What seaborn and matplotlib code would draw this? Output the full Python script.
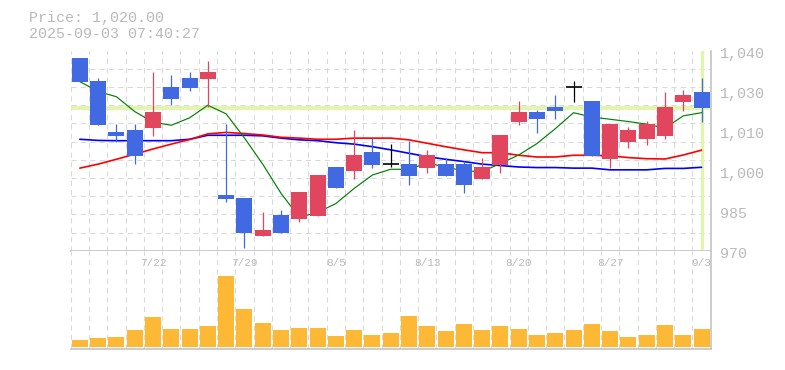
import numpy as np
import pandas as pd
import matplotlib
matplotlib.use('Agg')
import matplotlib.pyplot as plt
import matplotlib.transforms as mtransforms
import seaborn as sns

# trading days (7/21, 8/11 are holidays)
dates = ["7/15", "7/16", "7/17", "7/18", "7/22", "7/23", "7/24", "7/25", "7/28", "7/29",
         "7/30", "7/31", "8/1", "8/4", "8/5", "8/6", "8/7", "8/8", "8/12", "8/13",
         "8/14", "8/15", "8/18", "8/19", "8/20", "8/21", "8/22", "8/25", "8/26", "8/27",
         "8/28", "8/29", "9/1", "9/2", "9/3"]
opens = [1037.6, 1029.5, 1011.6, 1012.3, 1013.1, 1027.4, 1030.5, 1030.2, 989.5, 988.5,
         975.3, 982.5, 981.2, 982.3, 999.3, 998.0, 1004.6, 1000.4, 1000.4, 999.1,
         1000.4, 1000.4, 995.2, 1000.1, 1015.2, 1018.6, 1020.3, 1027.2, 1022.4, 1002.2,
         1008.2, 1009.2, 1010.3, 1022.2, 1025.6]
highs = [1037.6, 1030.6, 1014.4, 1014.4, 1032.7, 1031.5, 1032.7, 1036.5, 1014.4, 988.5,
         983.7, 984.3, 990.6, 996.5, 999.3, 1012.3, 1009.4, 1007.4, 1008.5, 1005.3,
         1002.5, 1001.4, 1002.5, 1010.5, 1022.4, 1019.3, 1024.5, 1029.4, 1022.4, 1014.4,
         1013.3, 1015.4, 1025.6, 1026.3, 1030.5]
lows = [1029.2, 1014.0, 1008.2, 1000.3, 1010.3, 1021.1, 1026.0, 1020.2, 987.2, 971.1,
        975.3, 976.3, 980.2, 982.3, 992.1, 995.2, 999.1, 999.3, 993.0, 997.3,
        996.3, 990.3, 995.2, 997.3, 1014.1, 1011.3, 1016.2, 1022.2, 1003.3, 999.1,
        1006.1, 1007.1, 1009.2, 1019.0, 1015.2]
closes = [1029.2, 1014.0, 1010.3, 1003.3, 1018.6, 1023.2, 1027.1, 1032.6, 988.2, 976.3,
          977.3, 976.3, 990.6, 996.5, 992.1, 1003.5, 1000.1, 1000.4, 996.3, 1003.5,
          996.3, 993.1, 999.3, 1010.5, 1018.6, 1016.2, 1019.0, 1027.2, 1003.3, 1014.4,
          1012.3, 1014.4, 1020.3, 1024.5, 1020.0]
volume = [7.3, 9.3, 10.3, 17.3, 30.3, 18.3, 18.3, 21.3, 71.3, 38.3,
          24.3, 17.3, 19.3, 19.3, 11.3, 17.3, 12.3, 14.3, 31.3, 21.3,
          16.3, 23.3, 17.3, 21.3, 18.3, 12.3, 14.3, 17.3, 23.3, 16.3,
          10.3, 12.3, 22.3, 12.3, 18.3]
ma5 = [1029.2, 1025.7, 1023.9, 1018.7, 1015.0, 1013.9, 1016.5, 1020.9, 1017.9, 1009.5,
       1000.3, 990.1, 981.7, 983.4, 986.5, 991.8, 996.5, 998.5, 998.5, 1000.7,
       999.3, 997.9, 997.7, 1000.5, 1003.5, 1007.5, 1012.7, 1018.3, 1016.8, 1016.0,
       1015.2, 1014.3, 1012.9, 1017.2, 1018.3]
ma25 = [998.9, 1000.3, 1002.0, 1003.8, 1005.6, 1007.3, 1008.9, 1010.9, 1011.4, 1011.0,
        1010.5, 1009.7, 1009.4, 1009.0, 1009.0, 1009.4, 1009.4, 1009.4, 1008.8, 1007.6,
        1006.4, 1005.3, 1004.3, 1004.3, 1003.4, 1002.8, 1002.8, 1003.4, 1003.4, 1003.2,
        1002.6, 1002.2, 1002.1, 1003.5, 1005.2]
ma75 = [1009.0, 1008.6, 1008.5, 1008.5, 1008.5, 1008.5, 1009.0, 1010.4, 1010.4, 1010.4,
        1010.2, 1009.4, 1008.8, 1008.5, 1007.8, 1007.3, 1006.4, 1005.3, 1004.1, 1002.9,
        1002.0, 1001.2, 1000.3, 999.8, 999.3, 999.1, 999.1, 998.9, 998.9, 998.3,
        998.3, 998.3, 998.8, 998.8, 999.2]

price_ticks = [1040, 1026, 1012, 998, 984, 970]
price_labels = ["1,040", "1,030", "1,010", "1,000", "985", "970"]
date_ticks = ["7/22", "7/29", "8/5", "8/13", "8/20", "8/27", "9/3"]
last_price = 1020.0
title_lines = ["Price: 1,020.00", "2025-09-03 07:40:27"]

UP = "#e2465f"
DOWN = "#4169e1"
VOL = "#fdb835"
GRID = "#d9d9d9"
TXT = "#bababa"
EDGE = "#c4c4c4"
HILITE = "#e2f5ac"

sns.set_theme(style="white")
plt.rcParams['font.family'] = ['Liberation Mono', 'DejaVu Sans Mono']

df = pd.DataFrame({"date": dates, "open": opens, "high": highs, "low": lows,
                   "close": closes, "volume": volume,
                   "ma5": ma5, "ma25": ma25, "ma75": ma75})
df["i"] = np.arange(len(df))

fig = plt.figure(figsize=(7.85, 3.7), dpi=100)
ax = fig.add_axes([70.7 / 785, 119.3 / 370, 640 / 785, 200 / 370])
axv = fig.add_axes([70.7 / 785, 20.7 / 370, 640 / 785, 98.6 / 370])

n = len(df)
grid_kw = dict(color=GRID, linestyle=(0, (5, 4)), linewidth=0.75)

# ---- price panel ----
ax.set_xlim(-0.5, n - 0.5)
ax.set_ylim(970, 1040)
ax.set_xticks([])
ax.set_xticks(np.arange(-0.5, n, 1), minor=True)
ax.set_yticks(price_ticks, price_labels)
ax.set_yticks(np.linspace(970, 1040, 12), minor=True)
ax.yaxis.tick_right()
ax.tick_params(axis='y', which='major', length=0, pad=6.7, labelsize=10.8, labelcolor=TXT)
ax.tick_params(which='minor', length=0)
ax.grid(False, which='major')
ax.grid(True, which='minor', **grid_kw)
ax.set_axisbelow(True)
shift = mtransforms.ScaledTranslation(0, -2 / 100, fig.dpi_scale_trans)
for lab in ax.get_yticklabels():
    lab.set_transform(lab.get_transform() + shift)

ax.axhline(last_price, color=HILITE, lw=2.8, zorder=1)
ax.axvline(n - 1, ymin=0.012, ymax=1, color=HILITE, lw=2.3, zorder=1)

sns.lineplot(data=df, x="i", y="ma75", ax=ax, color="#0000ff", lw=1.2, zorder=2)
sns.lineplot(data=df, x="i", y="ma25", ax=ax, color="#ff0000", lw=1.2, zorder=2)
sns.lineplot(data=df, x="i", y="ma5", ax=ax, color="#008000", lw=0.85, zorder=2)

colors = np.where(df["close"] > df["open"], UP,
                  np.where(df["close"] < df["open"], DOWN, "black"))
ax.vlines(df["i"], df["low"], df["high"], colors=colors, lw=0.9, zorder=3)
body_lo = np.minimum(df["open"], df["close"])
body_h = np.abs(df["close"] - df["open"])
ax.bar(df["i"], body_h, bottom=body_lo, width=0.875, color=colors, linewidth=0, zorder=4)
doji = df[df["close"] == df["open"]]
ax.hlines(doji["close"], doji["i"] - 0.4375, doji["i"] + 0.4375, colors="black", lw=1.2, zorder=4)

ax.set_xlabel("")
ax.set_ylabel("")
for s in ["top", "left"]:
    ax.spines[s].set_visible(False)
for s in ["bottom", "right"]:
    ax.spines[s].set_color(EDGE)
    ax.spines[s].set_linewidth(1.2)

# ---- volume panel ----
sns.barplot(data=df, x="date", y="volume", ax=axv, color=VOL, saturation=1,
            width=0.875, linewidth=0, errorbar=None)
axv.set_xlim(-0.5, n - 0.5)
axv.set_ylim(-2, 96.6)
axv.set_xticks([])
axv.set_xticks(np.arange(-0.5, n, 1), minor=True)
axv.set_yticks([])
axv.tick_params(which='minor', length=0)
axv.grid(True, which='minor', axis='x', **grid_kw)
axv.set_axisbelow(True)
axv.set_xlabel("")
axv.set_ylabel("")
for s in ["top", "left"]:
    axv.spines[s].set_visible(False)
for s in ["bottom", "right"]:
    axv.spines[s].set_color(EDGE)
    axv.spines[s].set_linewidth(1.2)

for d in date_ticks:
    axv.text(dates.index(d), 1 - 12 / 98.6, d, transform=axv.get_xaxis_transform(),
             ha='center', va='center', fontsize=8, color=TXT)

fig.text(29 / 785, 1 - 11 / 370, title_lines[0], fontsize=10.8, color=TXT, va='top')
fig.text(29 / 785, 1 - 27 / 370, title_lines[1], fontsize=10.8, color=TXT, va='top')

fig.savefig("out.png", dpi=100)
